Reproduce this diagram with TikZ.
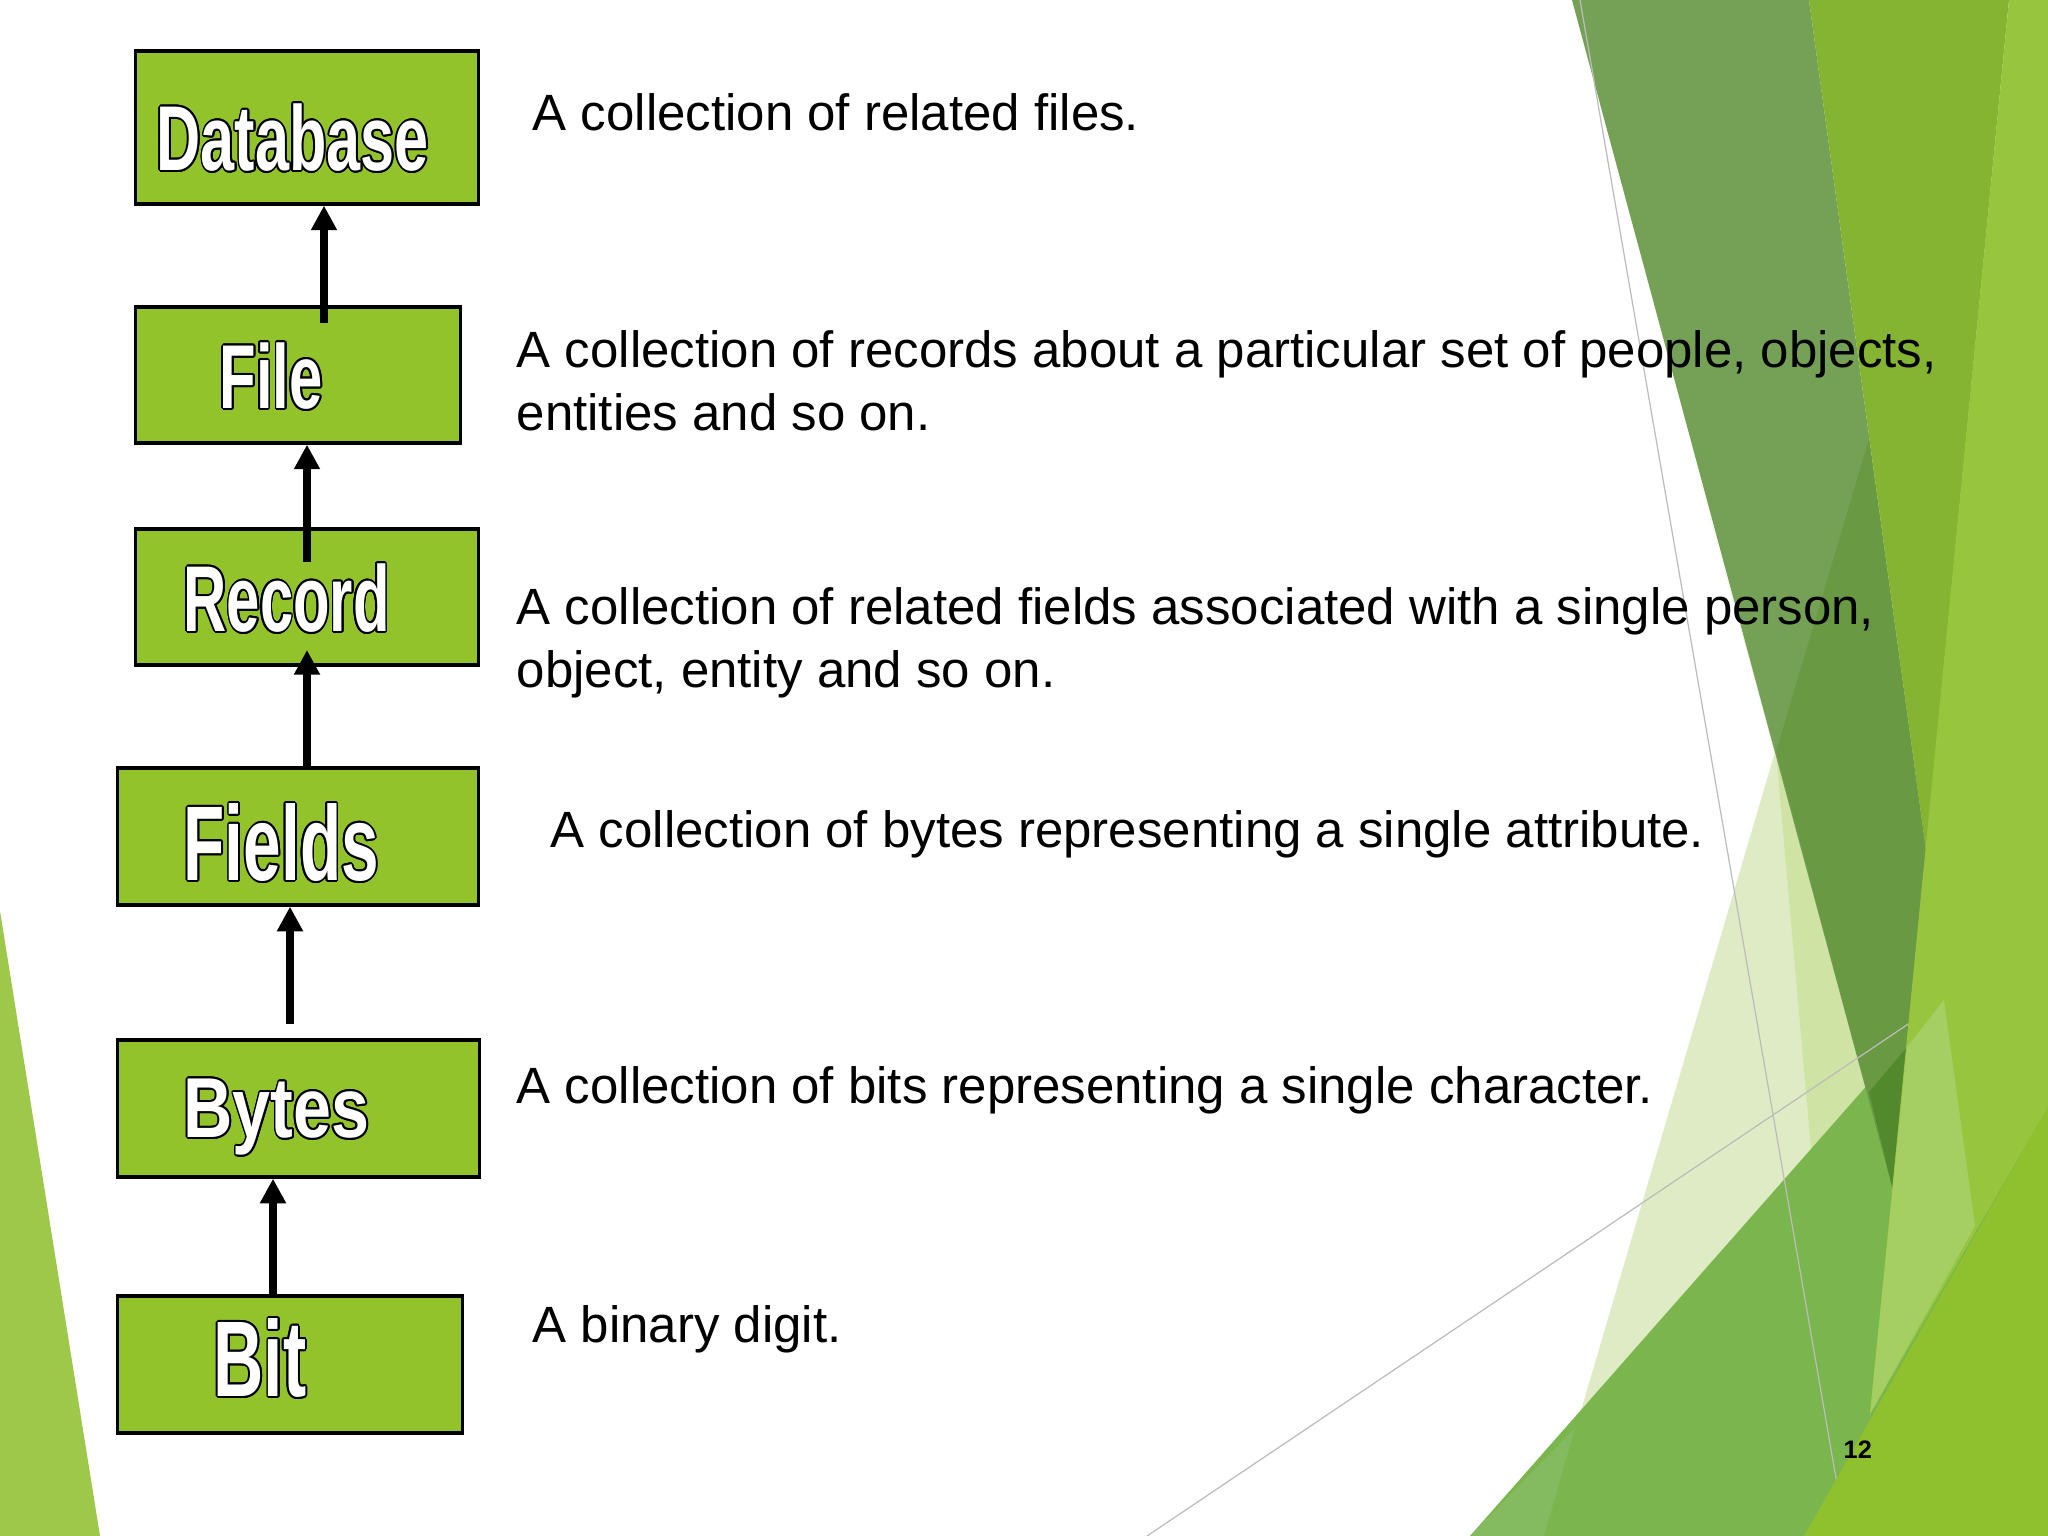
\documentclass[tikz,border=0pt]{standalone}
\usepackage{fontspec}
\usepackage{graphicx}
\setmainfont{Liberation Sans}
\usetikzlibrary{arrows.meta}
\definecolor{boxgreen}{RGB}{146,195,42}
\definecolor{leftgreen}{RGB}{158,200,74}
\definecolor{olive}{RGB}{117,161,86}
\definecolor{olivedark}{RGB}{106,153,68}
\definecolor{deepgreen}{RGB}{82,137,44}
\definecolor{midgreen}{RGB}{133,180,51}
\definecolor{stripgreen}{RGB}{152,197,62}
\definecolor{stripsoft}{RGB}{165,207,98}
\definecolor{palegreen}{RGB}{222,235,196}
\definecolor{satpale}{RGB}{207,227,165}
\definecolor{grassgreen}{RGB}{122,181,78}
\definecolor{grasssoft}{RGB}{132,186,96}
\definecolor{brightgreen}{RGB}{143,193,47}
\definecolor{thingray}{RGB}{188,188,188}
\newcommand{\outl}[1]{%
  \foreach \ang in {0,22.5,...,337.5}{%
    \pgfmathsetmacro{\ox}{0.5*cos(\ang)}%
    \pgfmathsetmacro{\oy}{0.5*sin(\ang)}%
    \rlap{\kern\ox pt\raisebox{\oy pt}{\color{black}#1}}}%
  {\color{white}#1}}
\newcommand{\boxlabel}[5]{\node[lvlname] (#1) at (#2) {\outl{\scalebox{#3}[#4]{#5}}};}
\tikzset{
  lvl/.style={draw=black, line width=0.9pt, fill=boxgreen, inner sep=0pt},
  lvlname/.style={anchor=base west, inner sep=0pt, font=\fontsize{10}{12}\selectfont\bfseries},
  up/.style={line width=2pt, -{Triangle[width=7pt,length=7pt]}},
  desc/.style={anchor=base west, inner sep=0pt, align=left, font=\fontsize{14.5}{17.64}\selectfont},
  thin line/.style={draw=thingray, line width=0.35pt}
}

\begin{document}
\begin{tikzpicture}[x=0.01cm,y=-0.01cm]
    \useasboundingbox (0,0) rectangle (2048,1536);
    \fill[white] (0,0) rectangle (2048,1536);

    \fill[leftgreen] (0,911) -- (100,1536) -- (0,1536) -- cycle;
    \fill[palegreen] (1700,480) -- (1775,752) -- (1544,1536) -- (1800,1536) -- (1870,1100) -- cycle;
    \fill[satpale] (1776,752) -- (1812,1160) -- (1880,1130) -- cycle;
    \fill[grassgreen] (1470,1536) -- (2048,880) -- (2048,1536) -- cycle;
    \fill[grasssoft] (1470,1536) -- (1575,1428) -- (1544,1536) -- cycle;
    \fill[olive] (1572,0) -- (1809,0) -- (1926,850) -- (1893,1190) -- cycle;
    \fill[olivedark] (1776,752) -- (1869,439) -- (1926,850) -- (1893,1190) -- cycle;
    \fill[deepgreen] (1869,1092) -- (1907,1047) -- (1893,1190) -- cycle;
    \fill[midgreen] (1809,0) -- (2009,0) -- (1926,850) -- cycle;
    \draw[thin line] (1147,1536) -- (2048,930);
    \fill[stripgreen] (2009,0) -- (2048,0) -- (2048,1107) -- (1870,1414) -- cycle;
    \fill[stripsoft] (1907,1047) -- (1944,1000) -- (1975,1226) -- (1870,1414) -- cycle;
    \draw[thin line] (1580,0) -- (1846,1536);
    \fill[brightgreen] (2048,1107) -- (2048,1536) -- (1804,1536) -- cycle;

    \node[lvl, minimum width=3.42cm, minimum height=1.53cm] (db) at (307,127.5) {};
    \node[lvl, minimum width=3.24cm, minimum height=1.36cm] (file) at (298,375) {};
    \node[lvl, minimum width=3.42cm, minimum height=1.36cm] (rec) at (307,597) {};
    \node[lvl, minimum width=3.60cm, minimum height=1.37cm] (fld) at (298,836.5) {};
    \node[lvl, minimum width=3.61cm, minimum height=1.37cm] (byt) at (298.5,1108.5) {};
    \node[lvl, minimum width=3.44cm, minimum height=1.37cm] (bit) at (290,1364.5) {};

    \coordinate (s1) at (324,323);
    \coordinate (s2) at (307,562);
    \coordinate (t3) at (307,650);
    \coordinate (s4) at (290,1024);
    \coordinate (s5) at (273,1296);
    \draw[up] (s1) -- (s1 |- db.south);
    \draw[up] (s2) -- (s2 |- file.south);
    \draw[up] (t3 |- fld.north) -- (t3);
    \draw[up] (s4) -- (s4 |- fld.south);
    \draw[up] (s5) -- (s5 |- byt.south);

    \boxlabel{dbname}{156,170.5}{1.74}{2.62}{Database}
    \boxlabel{filename}{219,408.5}{1.70}{2.58}{File}
    \boxlabel{recname}{183,631.5}{1.70}{2.66}{Record}
    \boxlabel{fldname}{183,880.5}{1.92}{3.02}{Fields}
    \boxlabel{bytname}{183,1137.5}{1.94}{2.42}{Bytes}
    \boxlabel{bitname}{213,1396.5}{1.98}{3.06}{Bit}

    \node[desc] (dbdesc) at (532,130) {A collection of related files.};
    \node[desc] (filedesc) at (516,430) {A collection of records about a particular set of people, objects,\\entities and so on.};
    \node[desc] (recdesc) at (516,687) {A collection of related fields associated with a single person,\\object, entity and so on.};
    \node[desc] (flddesc) at (550,847) {A collection of bytes representing a single attribute.};
    \node[desc] (bytdesc) at (516,1103) {A collection of bits representing a single character.};
    \node[desc] (bitdesc) at (532,1342) {A binary digit.};

    \node[anchor=base west, inner sep=0pt, font=\fontsize{7.2}{9}\selectfont\bfseries] (pgnum) at (1843,1458) {12};
\end{tikzpicture}
\end{document}
